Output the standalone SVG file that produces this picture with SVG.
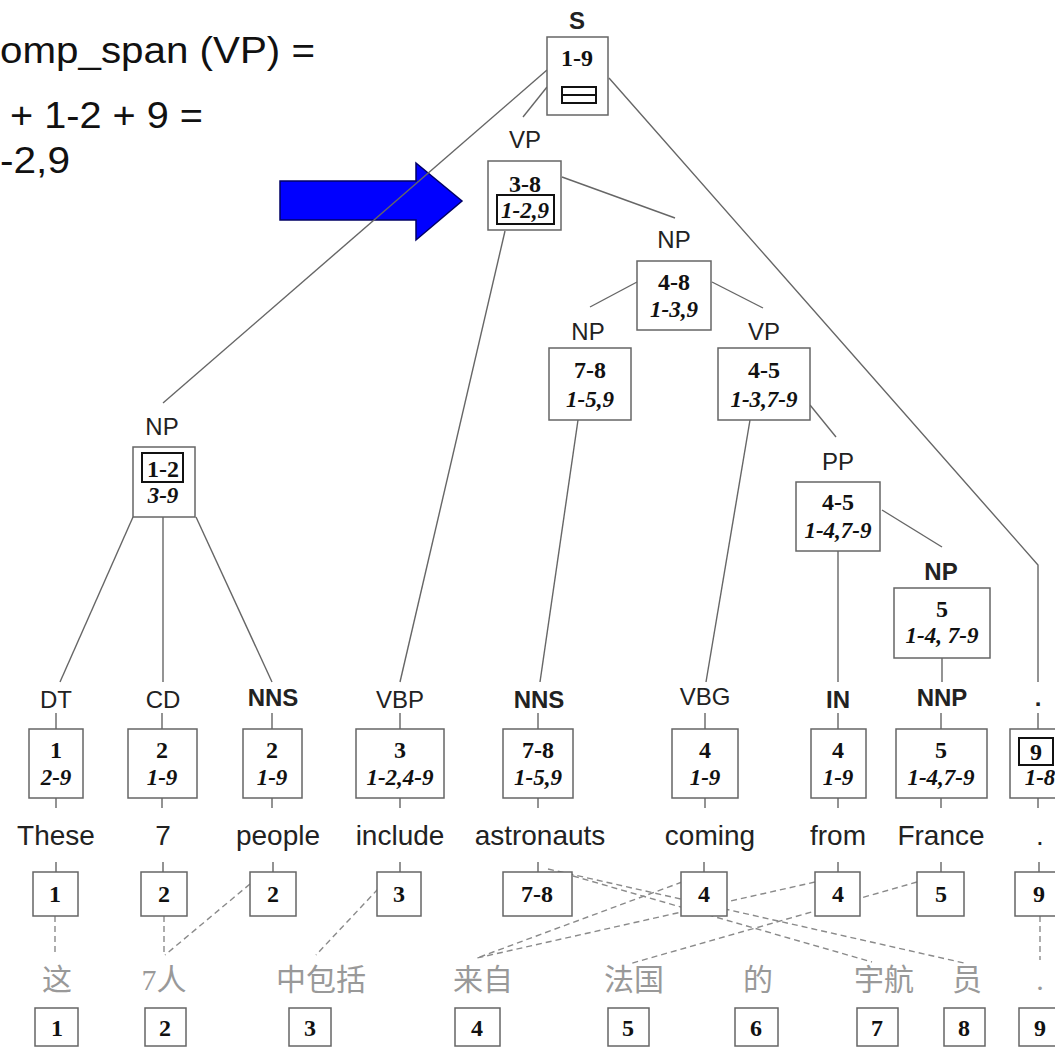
<svg xmlns="http://www.w3.org/2000/svg" width="1055" height="1048" viewBox="0 0 1055 1048">
  <style>
    .box { fill: #fff; stroke: #666; stroke-width: 1.5; }
    .hl { fill: none; stroke: #111; stroke-width: 2; }
    .edge { fill: none; stroke: #666; stroke-width: 1.4; }
    .align { fill: none; stroke: #8a8a8a; stroke-width: 1.4; stroke-dasharray: 6 4; }
    .lbl { font-family: "Liberation Sans", Arial, sans-serif; font-size: 24px; fill: #222; text-anchor: middle; }
    .bl { font-weight: bold; }
    .num { font-family: "Liberation Serif", "Times New Roman", serif; font-size: 24px; font-weight: bold; fill: #111; text-anchor: middle; }
    .it { font-family: "Liberation Serif", "Times New Roman", serif; font-size: 23px; font-weight: bold; font-style: italic; fill: #111; text-anchor: middle; }
    .word { font-family: "Liberation Sans", Arial, sans-serif; font-size: 28px; fill: #222; text-anchor: middle; }
    .zh { font-family: "Liberation Serif", "Noto Sans CJK SC", serif; font-size: 30px; fill: #999; text-anchor: middle; }
    .note { font-family: "Liberation Sans", Arial, sans-serif; font-size: 36px; fill: #111; }
  </style>

  <!-- formula text -->
  <g id="note">
    <text class="note" x="0" y="63" textLength="315" lengthAdjust="spacingAndGlyphs">omp_span (VP) =</text>
    <text class="note" x="10" y="128" textLength="193" lengthAdjust="spacingAndGlyphs">+ 1-2 + 9 =</text>
    <text class="note" x="0" y="173" textLength="70" lengthAdjust="spacingAndGlyphs">-2,9</text>
  </g>

  <!-- pointer arrow -->
  <g id="arrow">
    <polygon points="280,181 416,181 416,163 462,201 416,240 416,220 280,220" fill="#0000ff" stroke="#000066" stroke-width="1.5"/>
  </g>

  <!-- tree edges and alignment links -->
  <g id="connectors">
    <line class="edge" x1="547" y1="70" x2="163" y2="403"/>
    <line class="edge" x1="547" y1="87" x2="523" y2="117"/>
    <polyline class="edge" points="609,78 1038,565 1038,682"/>
    <line class="edge" x1="562" y1="177" x2="675" y2="218"/>
    <line class="edge" x1="505" y1="231" x2="400" y2="682"/>
    <line class="edge" x1="637" y1="282" x2="590" y2="307"/>
    <line class="edge" x1="712" y1="282" x2="763" y2="308"/>
    <line class="edge" x1="578" y1="420" x2="540" y2="682"/>
    <line class="edge" x1="750" y1="420" x2="706" y2="682"/>
    <line class="edge" x1="810" y1="405" x2="836" y2="437"/>
    <line class="edge" x1="882" y1="510" x2="942" y2="547"/>
    <line class="edge" x1="838" y1="551" x2="838" y2="682"/>
    <line class="edge" x1="942" y1="658" x2="942" y2="682"/>
    <line class="edge" x1="133" y1="517" x2="60" y2="682"/>
    <line class="edge" x1="163" y1="517" x2="163" y2="682"/>
    <line class="edge" x1="196" y1="517" x2="272" y2="682"/>

    <!-- leaf ticks: tag to box, box to word, word to index box -->
    <g class="edge">
      <path d="M56 713V729M56 798V808M56 862V872"/>
      <path d="M162 713V729M162 798V808M163 862V872"/>
      <path d="M272 713V729M272 798V808M273 862V872"/>
      <path d="M400 713V729M400 798V808M400 862V872"/>
      <path d="M538 713V729M538 798V808M538 862V872"/>
      <path d="M705 713V729M705 798V808M704 862V872"/>
      <path d="M838 713V729M838 798V808M838 862V872"/>
      <path d="M941 713V729M941 798V808M941 862V872"/>
      <path d="M1038 713V729M1038 798V808M1039 862V872"/>
    </g>

    <!-- word alignment -->
    <line class="align" x1="55" y1="916" x2="55" y2="955"/>
    <line class="align" x1="164" y1="916" x2="164" y2="955"/>
    <line class="align" x1="250" y1="884" x2="165" y2="955"/>
    <line class="align" x1="378" y1="889" x2="316" y2="955"/>
    <line class="align" x1="548" y1="869" x2="964" y2="963"/>
    <line class="align" x1="573" y1="876" x2="872" y2="962"/>
    <line class="align" x1="682" y1="882" x2="477" y2="958"/>
    <line class="align" x1="815" y1="882" x2="477" y2="958"/>
    <line class="align" x1="917" y1="882" x2="629" y2="964"/>
    <line class="align" x1="1040" y1="916" x2="1040" y2="960"/>
  </g>

  <!-- phrase nodes -->
  <g id="n-S">
    <text class="lbl bl" x="577" y="29">S</text>
    <rect class="box" x="547" y="37" width="61" height="78"/>
    <text class="num" x="577" y="66">1-9</text>
    <rect class="hl" x="562" y="87" width="34" height="16"/>
    <line class="hl" x1="562" y1="95" x2="596" y2="95"/>
  </g>
  <g id="n-VP">
    <text class="lbl" x="525" y="148">VP</text>
    <rect class="box" x="488" y="161" width="73" height="69"/>
    <text class="num" x="525" y="192">3-8</text>
    <rect class="hl" x="497" y="195" width="57" height="29"/>
    <text class="it" x="525" y="218">1-2,9</text>
  </g>
  <g id="n-NP48">
    <text class="lbl" x="674" y="248">NP</text>
    <rect class="box" x="637" y="261" width="74" height="69"/>
    <text class="num" x="674" y="290">4-8</text>
    <text class="it" x="674" y="317">1-3,9</text>
  </g>
  <g id="n-NP78">
    <text class="lbl" x="588" y="340">NP</text>
    <rect class="box" x="549" y="348" width="82" height="72"/>
    <text class="num" x="590" y="378">7-8</text>
    <text class="it" x="590" y="407">1-5,9</text>
  </g>
  <g id="n-VP45">
    <text class="lbl" x="764" y="340">VP</text>
    <rect class="box" x="718" y="348" width="92" height="72"/>
    <text class="num" x="764" y="378">4-5</text>
    <text class="it" x="764" y="407">1-3,7-9</text>
  </g>
  <g id="n-PP">
    <text class="lbl" x="838" y="470">PP</text>
    <rect class="box" x="796" y="482" width="84" height="69"/>
    <text class="num" x="838" y="510">4-5</text>
    <text class="it" x="838" y="538">1-4,7-9</text>
  </g>
  <g id="n-NP5">
    <text class="lbl bl" x="941" y="580">NP</text>
    <rect class="box" x="894" y="588" width="96" height="70"/>
    <text class="num" x="942" y="617">5</text>
    <text class="it" x="942" y="643">1-4, 7-9</text>
  </g>
  <g id="n-NP12">
    <text class="lbl" x="162" y="435">NP</text>
    <rect class="box" x="133" y="447" width="62" height="70"/>
    <rect class="hl" x="142" y="453" width="41" height="29"/>
    <text class="num" x="163" y="477">1-2</text>
    <text class="it" x="163" y="503">3-9</text>
  </g>

  <!-- preterminal nodes -->
  <g id="t-DT">
    <text class="lbl" x="56" y="708">DT</text>
    <rect class="box" x="29" y="729" width="54" height="69"/>
    <text class="num" x="56" y="758">1</text>
    <text class="it" x="56" y="785">2-9</text>
  </g>
  <g id="t-CD">
    <text class="lbl" x="163" y="708">CD</text>
    <rect class="box" x="128" y="729" width="69" height="69"/>
    <text class="num" x="162" y="758">2</text>
    <text class="it" x="162" y="785">1-9</text>
  </g>
  <g id="t-NNS1">
    <text class="lbl bl" x="273" y="706">NNS</text>
    <rect class="box" x="243" y="729" width="59" height="69"/>
    <text class="num" x="272" y="758">2</text>
    <text class="it" x="272" y="785">1-9</text>
  </g>
  <g id="t-VBP">
    <text class="lbl" x="400" y="708">VBP</text>
    <rect class="box" x="356" y="729" width="88" height="69"/>
    <text class="num" x="400" y="758">3</text>
    <text class="it" x="400" y="785">1-2,4-9</text>
  </g>
  <g id="t-NNS2">
    <text class="lbl bl" x="539" y="708">NNS</text>
    <rect class="box" x="503" y="729" width="70" height="69"/>
    <text class="num" x="538" y="758">7-8</text>
    <text class="it" x="538" y="785">1-5,9</text>
  </g>
  <g id="t-VBG">
    <text class="lbl" x="705" y="705">VBG</text>
    <rect class="box" x="672" y="729" width="66" height="69"/>
    <text class="num" x="705" y="758">4</text>
    <text class="it" x="705" y="785">1-9</text>
  </g>
  <g id="t-IN">
    <text class="lbl bl" x="838" y="708">IN</text>
    <rect class="box" x="811" y="729" width="55" height="69"/>
    <text class="num" x="838" y="758">4</text>
    <text class="it" x="838" y="785">1-9</text>
  </g>
  <g id="t-NNP">
    <text class="lbl bl" x="942" y="706">NNP</text>
    <rect class="box" x="896" y="729" width="91" height="69"/>
    <text class="num" x="941" y="758">5</text>
    <text class="it" x="941" y="785">1-4,7-9</text>
  </g>
  <g id="t-dot">
    <text class="lbl bl" x="1038" y="706">.</text>
    <rect class="box" x="1010" y="729" width="60" height="69"/>
    <rect class="hl" x="1019" y="738" width="34" height="27"/>
    <text class="num" x="1036" y="760">9</text>
    <text class="it" x="1040" y="785">1-8</text>
  </g>

  <!-- English words -->
  <g id="words-en">
    <text class="word" x="56" y="845">These</text>
    <text class="word" x="163" y="845">7</text>
    <text class="word" x="278" y="845">people</text>
    <text class="word" x="400" y="845">include</text>
    <text class="word" x="540" y="845">astronauts</text>
    <text class="word" x="710" y="845">coming</text>
    <text class="word" x="838" y="845">from</text>
    <text class="word" x="941" y="845">France</text>
    <text class="word" x="1040" y="845">.</text>
  </g>

  <!-- English index boxes -->
  <g id="idx-en">
    <g id="e1"><rect class="box" x="33" y="872" width="45" height="44"/><text class="num" x="55" y="902">1</text></g>
    <g id="e2"><rect class="box" x="141" y="872" width="46" height="44"/><text class="num" x="164" y="902">2</text></g>
    <g id="e3"><rect class="box" x="250" y="872" width="46" height="44"/><text class="num" x="273" y="902">2</text></g>
    <g id="e4"><rect class="box" x="377" y="872" width="44" height="44"/><text class="num" x="399" y="902">3</text></g>
    <g id="e5"><rect class="box" x="503" y="872" width="69" height="44"/><text class="num" x="537" y="902">7-8</text></g>
    <g id="e6"><rect class="box" x="681" y="872" width="46" height="44"/><text class="num" x="704" y="902">4</text></g>
    <g id="e7"><rect class="box" x="815" y="872" width="45" height="44"/><text class="num" x="838" y="902">4</text></g>
    <g id="e8"><rect class="box" x="917" y="872" width="47" height="44"/><text class="num" x="941" y="902">5</text></g>
    <g id="e9"><rect class="box" x="1015" y="872" width="55" height="44"/><text class="num" x="1039" y="902">9</text></g>
  </g>

  <!-- Chinese words -->
  <g id="words-zh">
    <text class="zh" x="57" y="990">这</text>
    <text class="zh" x="164" y="990">7人</text>
    <text class="zh" x="321" y="990">中包括</text>
    <text class="zh" x="483" y="990">来自</text>
    <text class="zh" x="634" y="990">法国</text>
    <text class="zh" x="758" y="990">的</text>
    <text class="zh" x="884" y="990">宇航</text>
    <text class="zh" x="967" y="990">员</text>
    <text class="zh" x="1040" y="990">.</text>
  </g>

  <!-- Chinese index boxes -->
  <g id="idx-zh">
    <g id="c1"><rect class="box" x="35" y="1008" width="43" height="38"/><text class="num" x="57" y="1036">1</text></g>
    <g id="c2"><rect class="box" x="145" y="1008" width="41" height="38"/><text class="num" x="165" y="1036">2</text></g>
    <g id="c3"><rect class="box" x="289" y="1008" width="42" height="38"/><text class="num" x="310" y="1036">3</text></g>
    <g id="c4"><rect class="box" x="455" y="1008" width="45" height="38"/><text class="num" x="477" y="1036">4</text></g>
    <g id="c5"><rect class="box" x="608" y="1008" width="41" height="38"/><text class="num" x="628" y="1036">5</text></g>
    <g id="c6"><rect class="box" x="735" y="1008" width="43" height="38"/><text class="num" x="756" y="1036">6</text></g>
    <g id="c7"><rect class="box" x="857" y="1008" width="41" height="38"/><text class="num" x="877" y="1036">7</text></g>
    <g id="c8"><rect class="box" x="944" y="1008" width="41" height="38"/><text class="num" x="964" y="1036">8</text></g>
    <g id="c9"><rect class="box" x="1019" y="1008" width="50" height="38"/><text class="num" x="1040" y="1036">9</text></g>
  </g>
</svg>
